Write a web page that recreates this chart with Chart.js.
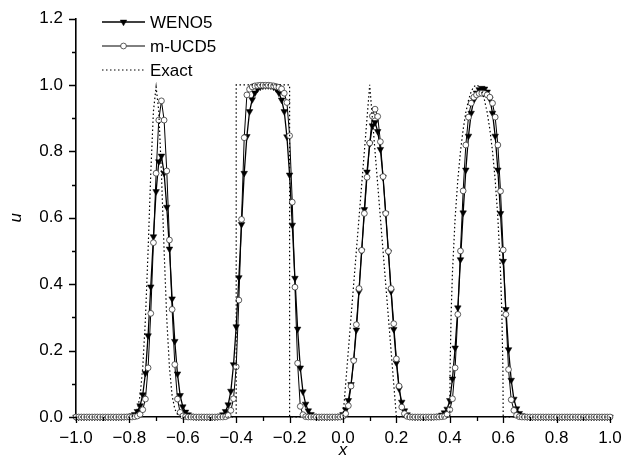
<!DOCTYPE html>
<html>
<head>
<meta charset="utf-8">
<script src="https://cdn.jsdelivr.net/npm/chart.js@4/dist/chart.umd.min.js"></script>
<style>
  html, body { margin: 0; padding: 0; background: #fff; }
  canvas { display: block; }
</style>
</head>
<body>
<canvas id="chart" width="637" height="466"></canvas>
<script>
// Uniform mesh: x = -1.00, -0.99, ..., 1.00
const xStart = -1.0;
const xStep = 0.01;

// WENO5 solution at the mesh points
const weno5 = [
  0, 0, 0, 0, 0, 0, 0, 0, 0, 0,
  0, 0, 0, 0, 0, 0, 0, 0, 0.001, 0.002,
  0.002, 0.004, 0.008, 0.017, 0.034, 0.067, 0.132, 0.245, 0.392, 0.543,
  0.679, 0.769, 0.786, 0.734, 0.632, 0.506, 0.356, 0.228, 0.130, 0.065,
  0.031, 0.015, 0.007, 0.003, 0.001, 0, 0, 0, 0, 0,
  0, 0, 0, 0.001, 0.003, 0.007, 0.017, 0.037, 0.078, 0.158,
  0.272, 0.420, 0.580, 0.734, 0.845, 0.920, 0.956, 0.976, 0.988, 0.994,
  0.997, 0.998, 0.998, 0.997, 0.994, 0.988, 0.976, 0.955, 0.920, 0.844,
  0.729, 0.578, 0.418, 0.265, 0.148, 0.076, 0.039, 0.019, 0.008, 0.003,
  0.001, 0, 0, 0, 0, 0, 0, 0.001, 0.001, 0.003,
  0.008, 0.022, 0.050, 0.098, 0.170, 0.262, 0.378, 0.500, 0.625, 0.738,
  0.822, 0.877, 0.887, 0.860, 0.806, 0.722, 0.612, 0.496, 0.378, 0.264,
  0.163, 0.085, 0.045, 0.019, 0.007, 0.002, 0.001, 0, 0, 0,
  0, 0, 0, 0, 0.001, 0.002, 0.003, 0.006, 0.013, 0.024,
  0.050, 0.115, 0.208, 0.329, 0.474, 0.615, 0.744, 0.846, 0.915, 0.955,
  0.976, 0.986, 0.990, 0.988, 0.979, 0.958, 0.915, 0.846, 0.744, 0.613,
  0.469, 0.324, 0.203, 0.111, 0.054, 0.025, 0.011, 0.004, 0.002, 0.001,
  0, 0, 0, 0, 0, 0, 0, 0, 0, 0,
  0, 0, 0, 0, 0, 0, 0, 0, 0, 0,
  0, 0, 0, 0, 0, 0, 0, 0, 0, 0,
  0
];

// m-UCD5 solution at the mesh points
const mucd5 = [
  0, 0, 0, 0, 0, 0, 0, 0, 0, 0,
  0, 0, 0, 0, 0, 0, 0, 0, 0, 0,
  0, 0, 0.001, 0.003, 0.008, 0.022, 0.054, 0.148, 0.312, 0.525,
  0.734, 0.894, 0.952, 0.894, 0.741, 0.533, 0.324, 0.158, 0.054, 0.014,
  0.003, 0.001, 0, 0, 0, 0, 0, 0, 0, 0,
  0, 0, 0, 0, 0, 0, 0.001, 0.005, 0.020, 0.055,
  0.151, 0.352, 0.595, 0.841, 0.970, 0.987, 0.994, 0.997, 0.998, 0.999,
  0.999, 0.999, 0.999, 0.998, 0.997, 0.995, 0.993, 0.988, 0.975, 0.947,
  0.847, 0.647, 0.391, 0.162, 0.032, 0.007, 0.001, 0, 0, 0,
  0, 0, 0, 0, 0, 0, 0, 0, 0, 0,
  0.002, 0.010, 0.034, 0.093, 0.170, 0.278, 0.387, 0.502, 0.613, 0.722,
  0.825, 0.906, 0.927, 0.905, 0.829, 0.724, 0.613, 0.499, 0.387, 0.281,
  0.175, 0.093, 0.030, 0.010, 0.002, 0, 0, 0, 0, 0,
  0, 0, 0, 0, 0, 0, 0, 0.001, 0.002, 0.008,
  0.022, 0.055, 0.148, 0.309, 0.500, 0.681, 0.819, 0.903, 0.945, 0.963,
  0.970, 0.974, 0.975, 0.974, 0.970, 0.963, 0.945, 0.903, 0.819, 0.680,
  0.503, 0.309, 0.143, 0.052, 0.020, 0.005, 0.001, 0, 0, 0,
  0, 0, 0, 0, 0, 0, 0, 0, 0, 0,
  0, 0, 0, 0, 0, 0, 0, 0, 0, 0,
  0, 0, 0, 0, 0, 0, 0, 0, 0, 0,
  0
];

// Exact profile: Gaussian, square wave, triangle, half ellipse
const exactX = [
  -1.00, -0.80, -0.79, -0.78, -0.77, -0.76, -0.75, -0.74, -0.73, -0.72, -0.71,
  -0.70, -0.69, -0.68, -0.67, -0.66, -0.65, -0.64, -0.63, -0.62, -0.61, -0.60,
  -0.40, -0.40, -0.20, -0.20,
  0.00, 0.10, 0.20,
  0.40, 0.401, 0.405, 0.41, 0.42, 0.43, 0.44, 0.45, 0.46, 0.47, 0.48, 0.49,
  0.50, 0.51, 0.52, 0.53, 0.54, 0.55, 0.56, 0.57, 0.58, 0.59, 0.595, 0.599, 0.60,
  1.00
];
const exactU = [
  0, 0, 0.002, 0.008, 0.024, 0.064, 0.149, 0.295, 0.501, 0.733, 0.921,
  0.994, 0.921, 0.733, 0.501, 0.295, 0.149, 0.064, 0.024, 0.008, 0.002, 0,
  0, 1, 1, 0,
  0, 1, 0,
  0, 0.141, 0.312, 0.436, 0.600, 0.714, 0.800, 0.866, 0.917, 0.954, 0.980, 0.995,
  1.000, 0.995, 0.980, 0.954, 0.917, 0.866, 0.800, 0.714, 0.600, 0.436, 0.312, 0.141, 0,
  0
];

// Axis tick labels
const xTickValues = [-1.0, -0.8, -0.6, -0.4, -0.2, 0.0, 0.2, 0.4, 0.6, 0.8, 1.0];
const yTickValues = [0.0, 0.2, 0.4, 0.6, 0.8, 1.0, 1.2];
const seriesNames = ['WENO5', 'm-UCD5', 'Exact'];

const FONT = '"Liberation Sans", Arial, Helvetica, sans-serif';

const gridX = weno5.map((_, i) => +(xStart + i * xStep).toFixed(2));
const toPoints = (xs, ys) => xs.map((x, i) => ({ x: x, y: ys[i] }));

const fmt = v => (v < 0 ? '\u2212' : '') + Math.abs(v).toFixed(1);

// Major and minor tick marks drawn outward from the axes
const tickMarks = {
  id: 'tickMarks',
  afterDraw(chart) {
    const { ctx, chartArea } = chart;
    const xs = chart.scales.x, ys = chart.scales.y;
    ctx.save();
    ctx.strokeStyle = '#000';
    ctx.lineWidth = 1.3;
    ctx.beginPath();
    xTickValues.forEach((v, i) => {
      const px = Math.round(xs.getPixelForValue(v)) + 0.5;
      ctx.moveTo(px, chartArea.bottom);
      ctx.lineTo(px, chartArea.bottom + 6);
      if (i < xTickValues.length - 1) {
        const pm = Math.round(xs.getPixelForValue((v + xTickValues[i + 1]) / 2)) + 0.5;
        ctx.moveTo(pm, chartArea.bottom);
        ctx.lineTo(pm, chartArea.bottom + 4);
      }
    });
    yTickValues.forEach((v, i) => {
      const py = Math.round(ys.getPixelForValue(v)) + 0.5;
      ctx.moveTo(chartArea.left, py);
      ctx.lineTo(chartArea.left - 7, py);
      if (i < yTickValues.length - 1) {
        const pm = Math.round(ys.getPixelForValue((v + yTickValues[i + 1]) / 2)) + 0.5;
        ctx.moveTo(chartArea.left, pm);
        ctx.lineTo(chartArea.left - 4, pm);
      }
    });
    ctx.stroke();
    ctx.restore();
  }
};

// Legend in the upper-left corner: line sample with marker, then name
const inlineLegend = {
  id: 'inlineLegend',
  afterDraw(chart) {
    const ctx = chart.ctx;
    const x0 = 102, x1 = 145, tx = 150;
    const rows = [22, 46, 70];
    chart.data.datasets.forEach((ds, i) => {
      const y = rows[i];
      ctx.save();
      ctx.strokeStyle = '#000';
      ctx.lineWidth = ds.borderWidth;
      ctx.setLineDash(ds.borderDash || []);
      ctx.beginPath();
      ctx.moveTo(x0, y);
      ctx.lineTo(x1, y);
      ctx.stroke();
      ctx.restore();
      if (ds.pointRadius > 0) {
        ctx.save();
        ctx.fillStyle = ds.pointBackgroundColor;
        ctx.strokeStyle = ds.pointBorderColor;
        ctx.lineWidth = ds.pointBorderWidth;
        Chart.helpers.drawPoint(ctx, {
          pointStyle: ds.pointStyle,
          rotation: ds.pointRotation || 0,
          radius: ds.pointRadius,
          borderWidth: ds.pointBorderWidth
        }, (x0 + x1) / 2, y);
        ctx.restore();
      }
      ctx.save();
      ctx.fillStyle = '#000';
      ctx.font = '17px ' + FONT;
      ctx.textBaseline = 'middle';
      ctx.textAlign = 'left';
      ctx.fillText(seriesNames[i], tx, y + 1);
      ctx.restore();
    });
  }
};

new Chart(document.getElementById('chart'), {
  type: 'line',
  data: {
    datasets: [
      {
        label: seriesNames[0],
        data: toPoints(gridX, weno5),
        borderColor: '#000',
        borderWidth: 1.3,
        pointStyle: 'triangle',
        pointRotation: 180,
        pointRadius: 3.8,
        pointBackgroundColor: '#000',
        pointBorderColor: '#000',
        pointBorderWidth: 0.5,
        order: 2
      },
      {
        label: seriesNames[1],
        data: toPoints(gridX, mucd5),
        borderColor: '#000',
        borderWidth: 1,
        pointStyle: 'circle',
        pointRadius: 2.9,
        pointBackgroundColor: '#fff',
        pointBorderColor: '#333',
        pointBorderWidth: 0.8,
        order: 1
      },
      {
        label: seriesNames[2],
        data: toPoints(exactX, exactU),
        borderColor: '#000',
        borderWidth: 1.2,
        borderDash: [1.5, 2.5],
        pointRadius: 0,
        order: 0
      }
    ]
  },
  options: {
    responsive: false,
    animation: false,
    devicePixelRatio: 1,
    layout: { padding: { left: 0, right: 27, top: 18.5, bottom: 0 } },
    plugins: { legend: { display: false }, tooltip: { enabled: false } },
    elements: { line: { tension: 0 } },
    datasets: { line: { clip: 4 } },
    scales: {
      x: {
        type: 'linear',
        min: -1, max: 1,
        afterBuildTicks: s => { s.ticks = xTickValues.map(v => ({ value: v })); },
        afterFit: s => { s.height = 49; s.paddingLeft = 0; s.paddingRight = 0; },
        grid: { display: false, drawTicks: false },
        border: { display: true, color: '#000', width: 1.6 },
        ticks: {
          color: '#000', padding: 11, maxRotation: 0, autoSkip: false,
          font: { family: FONT, size: 17 },
          callback: v => fmt(v)
        },
        title: {
          display: true, text: 'x', color: '#000',
          font: { family: FONT, size: 17, style: 'italic' },
          padding: { top: 0, bottom: 6 }
        }
      },
      y: {
        type: 'linear',
        min: 0, max: 1.2,
        afterBuildTicks: s => { s.ticks = yTickValues.map(v => ({ value: v })); },
        afterFit: s => { s.width = 76; s.paddingTop = 0; s.paddingBottom = 0; },
        grid: { display: false, drawTicks: false },
        border: { display: true, color: '#000', width: 1.6 },
        ticks: {
          color: '#000', padding: 13, autoSkip: false,
          font: { family: FONT, size: 17 },
          callback: v => fmt(v)
        },
        title: {
          display: true, text: 'u', color: '#000',
          font: { family: FONT, size: 17, style: 'italic' },
          padding: { top: 6, bottom: 0 }
        }
      }
    }
  },
  plugins: [tickMarks, inlineLegend]
});
</script>
</body>
</html>
